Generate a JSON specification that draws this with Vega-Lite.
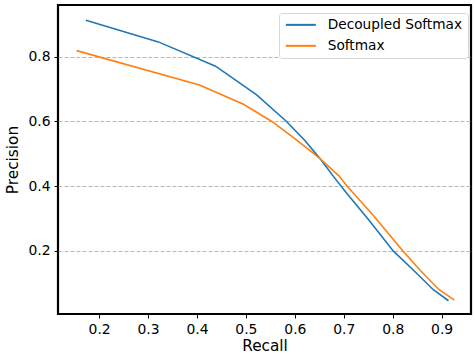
{
  "$schema": "https://vega.github.io/schema/vega-lite/v6.json",
  "width": 413,
  "height": 309,
  "autosize": "none",
  "padding": {"left": 58, "top": 5, "right": 4, "bottom": 40},
  "background": "white",
  "config": {
    "view": {"stroke": "black", "strokeWidth": 2.2},
    "font": "DejaVu Sans"
  },
  "data": {
    "values": [
      {"series": "Decoupled Softmax", "recall": 0.173, "precision": 0.913},
      {"series": "Decoupled Softmax", "recall": 0.321, "precision": 0.846},
      {"series": "Decoupled Softmax", "recall": 0.438, "precision": 0.771},
      {"series": "Decoupled Softmax", "recall": 0.522, "precision": 0.682},
      {"series": "Decoupled Softmax", "recall": 0.583, "precision": 0.600},
      {"series": "Decoupled Softmax", "recall": 0.620, "precision": 0.542},
      {"series": "Decoupled Softmax", "recall": 0.651, "precision": 0.486},
      {"series": "Decoupled Softmax", "recall": 0.680, "precision": 0.428},
      {"series": "Decoupled Softmax", "recall": 0.706, "precision": 0.378},
      {"series": "Decoupled Softmax", "recall": 0.750, "precision": 0.298},
      {"series": "Decoupled Softmax", "recall": 0.801, "precision": 0.200},
      {"series": "Decoupled Softmax", "recall": 0.842, "precision": 0.141},
      {"series": "Decoupled Softmax", "recall": 0.883, "precision": 0.080},
      {"series": "Decoupled Softmax", "recall": 0.914, "precision": 0.046},
      {"series": "Softmax", "recall": 0.154, "precision": 0.819},
      {"series": "Softmax", "recall": 0.405, "precision": 0.713},
      {"series": "Softmax", "recall": 0.495, "precision": 0.653},
      {"series": "Softmax", "recall": 0.553, "precision": 0.600},
      {"series": "Softmax", "recall": 0.600, "precision": 0.547},
      {"series": "Softmax", "recall": 0.651, "precision": 0.486},
      {"series": "Softmax", "recall": 0.690, "precision": 0.432},
      {"series": "Softmax", "recall": 0.707, "precision": 0.400},
      {"series": "Softmax", "recall": 0.760, "precision": 0.310},
      {"series": "Softmax", "recall": 0.821, "precision": 0.200},
      {"series": "Softmax", "recall": 0.856, "precision": 0.140},
      {"series": "Softmax", "recall": 0.895, "precision": 0.080},
      {"series": "Softmax", "recall": 0.926, "precision": 0.048}
    ]
  },
  "mark": {"type": "line", "strokeWidth": 1.6, "clip": true},
  "encoding": {
    "x": {
      "field": "recall",
      "type": "quantitative",
      "title": "Recall",
      "scale": {"domain": [0.116, 0.96], "nice": false, "zero": false},
      "axis": {
        "values": [0.2, 0.3, 0.4, 0.5, 0.6, 0.7, 0.8, 0.9],
        "format": ".1f",
        "grid": false,
        "domain": false,
        "tickColor": "black",
        "tickSize": 4,
        "tickWidth": 1,
        "labelFont": "DejaVu Sans",
        "labelFontSize": 13.9,
        "labelColor": "black",
        "labelPadding": 4,
        "titleFont": "DejaVu Sans",
        "titleFontSize": 15.3,
        "titleFontWeight": "normal",
        "titleColor": "black",
        "titlePadding": 3
      }
    },
    "y": {
      "field": "precision",
      "type": "quantitative",
      "title": "Precision",
      "scale": {"domain": [0.005, 0.96], "nice": false, "zero": false},
      "axis": {
        "values": [0.2, 0.4, 0.6, 0.8],
        "format": ".1f",
        "grid": true,
        "gridDash": [4, 2],
        "gridColor": "#b0b0b0",
        "gridWidth": 0.9,
        "domain": false,
        "tickColor": "black",
        "tickSize": 4,
        "tickWidth": 1,
        "labelFont": "DejaVu Sans",
        "labelFontSize": 13.9,
        "labelColor": "black",
        "labelPadding": 4,
        "titleFont": "DejaVu Sans",
        "titleFontSize": 15.3,
        "titleFontWeight": "normal",
        "titleColor": "black",
        "titlePadding": 7
      }
    },
    "color": {
      "field": "series",
      "type": "nominal",
      "scale": {"domain": ["Decoupled Softmax", "Softmax"], "range": ["#1f77b4", "#ff7f0e"]},
      "legend": {
        "title": null,
        "orient": "none",
        "legendX": 221,
        "legendY": 8,
        "symbolType": "M-1,0H5",
        "symbolSize": 100,
        "symbolStrokeWidth": 2,
        "labelFont": "DejaVu Sans",
        "labelFontSize": 13.7,
        "labelColor": "black",
        "labelOffset": 30,
        "rowPadding": 6,
        "padding": 5,
        "strokeColor": "#d6d6d6",
        "fillColor": "white",
        "cornerRadius": 3
      }
    }
  }
}
